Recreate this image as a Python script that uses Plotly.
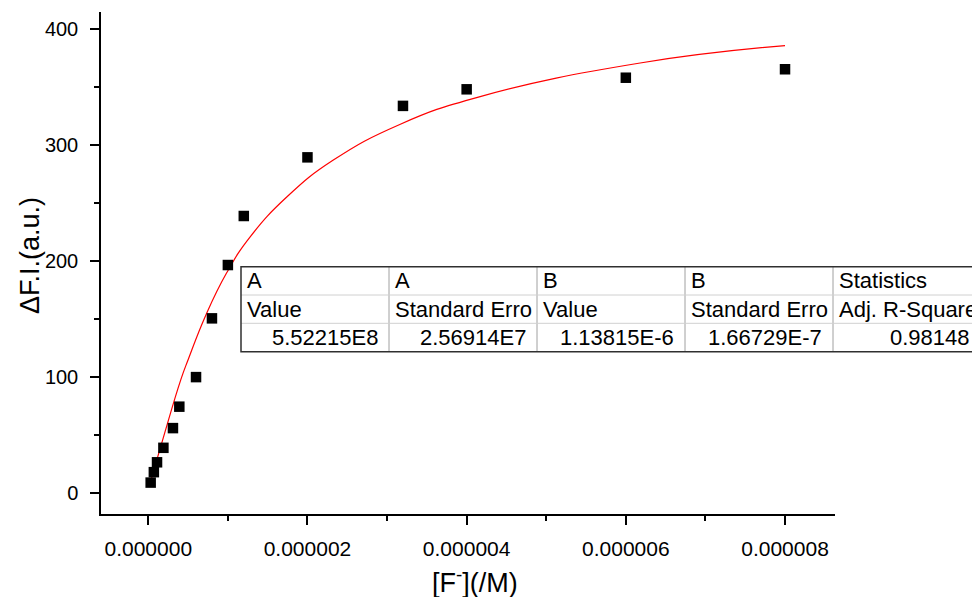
import plotly.graph_objects as go

# Fluoride titration: concentration (M) vs fluorescence change
conc = [0.03e-6, 0.07e-6, 0.11e-6, 0.19e-6, 0.31e-6, 0.39e-6, 0.6e-6, 0.8e-6,
        1.0e-6, 1.2e-6, 2.0e-6, 3.2e-6, 4.0e-6, 6.0e-6, 8.0e-6]
dfi = [9, 18, 26.5, 39, 56, 74.5, 100, 150.7, 196.7, 239, 289.6, 334, 348.3, 358.3, 365.6]

# Fitted curve, sampled
fit_x = [0.03e-6, 0.19e-6, 0.41e-6, 0.503e-6, 0.72e-6, 0.985e-6, 1.28e-6, 1.75e-6,
         2.32e-6, 3.16e-6, 4.17e-6, 6.18e-6, 8.0e-6]
fit_y = [10, 48, 98, 115.4, 153, 190, 221, 256, 287, 318, 342, 371, 386]

# Fit results table
table_rows = [
    ["A", "A", "B", "B", "Statistics"],
    ["Value", "Standard Erro", "Value", "Standard Erro", "Adj. R-Square"],
    ["5.52215E8", "2.56914E7", "1.13815E-6", "1.66729E-7", "0.98148"],
]

W, H = 972, 597
L, R, T, B = 101, 137, 12, 83
PW, PH = W - L - R, H - T - B
FONT = "Liberation Sans, Arial, sans-serif"


def px(xp):
    return (xp - L) / PW


def py(yp):
    return (H - B - yp) / PH


fig = go.Figure()
fig.add_trace(go.Scatter(x=fit_x, y=fit_y, mode="lines",
                         line=dict(color="#ff0000", width=1.2, shape="spline", smoothing=1.3),
                         hoverinfo="skip", showlegend=False))
fig.add_trace(go.Scatter(x=conc, y=dfi, mode="markers",
                         marker=dict(symbol="square", size=10.5, color="black",
                                     line=dict(width=0)),
                         showlegend=False))

axis_common = dict(showgrid=False, zeroline=False, showline=True, linecolor="black",
                   linewidth=1.5, ticks="outside", ticklen=9, tickwidth=1.5,
                   tickcolor="black", mirror=False)

fig.update_xaxes(range=[-0.594e-6, 8.628e-6], tickmode="array",
                 tickvals=[0, 2e-6, 4e-6, 6e-6, 8e-6],
                 ticktext=["0.000000", "0.000002", "0.000004", "0.000006", "0.000008"],
                 minor=dict(tickvals=[1e-6, 3e-6, 5e-6, 7e-6], ticklen=5, tickwidth=1.5,
                            tickcolor="black", ticks="outside"),
                 tickfont=dict(family=FONT, size=21, color="black"),
                 ticklabelstandoff=6, **axis_common)
fig.update_yaxes(range=[-18.1, 415], tickvals=[0, 100, 200, 300, 400],
                 minor=dict(tickvals=[50, 150, 250, 350], ticklen=5, tickwidth=1.5,
                            tickcolor="black", ticks="outside"),
                 tickfont=dict(family=FONT, size=20, color="black"),
                 ticklabelstandoff=8, **axis_common)

# Axis titles
fig.add_annotation(x=px(30), y=py(256), xref="paper", yref="paper", text="ΔF.I.(a.u.)",
                   textangle=-90, showarrow=False, xanchor="center", yanchor="middle",
                   font=dict(family=FONT, size=27, color="black"))
fig.add_annotation(x=px(475), y=py(581), xref="paper", yref="paper",
                   text="[F<sup>-</sup>](/M)", showarrow=False,
                   xanchor="center", yanchor="middle",
                   font=dict(family=FONT, size=27, color="black"))

# Fit results table
col_edges = [241, 389, 537, 685, 833, 981]
row_edges = [266.7, 295, 323.3, 351.7]
shapes = []
for ce in col_edges[1:-1]:
    shapes.append(dict(type="line", xref="paper", yref="paper", x0=px(ce), x1=px(ce),
                       y0=py(row_edges[0]), y1=py(row_edges[-1]),
                       line=dict(color="#a0a0a0", width=1)))
for re_ in row_edges[1:-1]:
    shapes.append(dict(type="line", xref="paper", yref="paper", x0=px(col_edges[0]),
                       x1=px(col_edges[-1]), y0=py(re_), y1=py(re_),
                       line=dict(color="#d0d0d0", width=1)))
shapes.append(dict(type="rect", xref="paper", yref="paper", x0=px(col_edges[0]),
                   x1=px(col_edges[-1]), y0=py(row_edges[0]), y1=py(row_edges[-1]),
                   line=dict(color="#303030", width=1.5)))
fig.update_layout(shapes=shapes)

for r, row in enumerate(table_rows):
    yc = (row_edges[r] + row_edges[r + 1]) / 2
    for c, txt in enumerate(row):
        if r < 2:
            xa, anchor = col_edges[c] + 4, "left"
        else:
            xa, anchor = col_edges[c + 1] - 9, "right"
        fig.add_annotation(x=px(xa), y=py(yc), xref="paper", yref="paper", text=txt,
                           showarrow=False, xanchor=anchor, yanchor="middle",
                           font=dict(family=FONT, size=22, color="black"))

fig.update_layout(width=W, height=H, margin=dict(l=L, r=R, t=T, b=B),
                  plot_bgcolor="white", paper_bgcolor="white")

fig.write_html("out.html")
